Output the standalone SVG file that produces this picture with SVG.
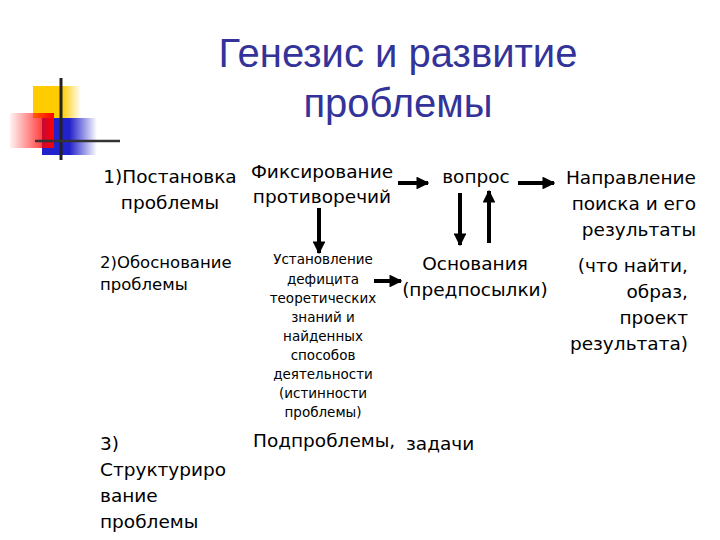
<svg xmlns="http://www.w3.org/2000/svg" width="720" height="540" viewBox="0 0 720 540">
<defs>
<linearGradient id="gy" x1="0" x2="1"><stop offset="0.6" stop-color="#ffcc00"/><stop offset="1" stop-color="#ffcc00" stop-opacity="0"/></linearGradient>
<linearGradient id="gr" x1="1" x2="0"><stop offset="0" stop-color="#ff0000"/><stop offset="1" stop-color="#ff0000" stop-opacity="0.05"/></linearGradient>
<linearGradient id="gb" x1="0" x2="1"><stop offset="0.5" stop-color="#2222cc"/><stop offset="1" stop-color="#2222cc" stop-opacity="0"/></linearGradient>
<marker id="ah" viewBox="0 0 10 10" refX="9" refY="5" markerWidth="3.2" markerHeight="3.2" orient="auto"><path d="M0,0L10,5L0,10z" fill="#000"/></marker>
<style>
text{font-family:"DejaVu Sans","Liberation Sans",sans-serif;fill:#000}
.b{font-size:18.5px}.s{font-size:13.5px}
.t{font-family:"Liberation Sans",Arial,sans-serif;font-size:40px;fill:#333399}
.c line{stroke:#000;stroke-width:4}
</style>
</defs>
<g id="deco">
<rect x="33" y="86" width="48" height="32" fill="url(#gy)"/>
<rect x="42" y="118" width="55" height="37" fill="url(#gb)"/>
<rect x="10" y="113" width="44" height="35" fill="url(#gr)"/>
<line x1="61" y1="78" x2="61" y2="160" stroke="#222" stroke-width="3"/>
<line x1="35" y1="141" x2="120" y2="141" stroke="#333" stroke-width="2.5"/>
</g>
<g id="title"><text class="t" x="398" y="67" text-anchor="middle">Генезис и развитие</text><text class="t" x="398" y="117" text-anchor="middle">проблемы</text></g>
<g id="n1"><text class="b" x="170" y="183" text-anchor="middle">1)Постановка</text><text class="b" x="170" y="209" text-anchor="middle">проблемы</text></g>
<g id="n2"><text class="b" x="322" y="178" text-anchor="middle">Фиксирование</text><text class="b" x="322" y="203" text-anchor="middle">противоречий</text></g>
<g id="n3"><text class="b" x="476" y="183" text-anchor="middle">вопрос</text></g>
<g id="n4" text-anchor="end"><text class="b" x="696" y="184">Направление</text><text class="b" x="696" y="210">поиска и его</text><text class="b" x="696" y="236">результаты</text><text class="b" x="688" y="272">(что найти,</text><text class="b" x="688" y="298">образ,</text><text class="b" x="688" y="324">проект</text><text class="b" x="688" y="350">результата)</text></g>
<g id="n5"><text x="100" y="268" style="font-size:16.5px">2)Обоснование</text><text x="100" y="290" style="font-size:16.5px">проблемы</text></g>
<g id="n6" text-anchor="middle" class="s"><text x="323" y="264">Установление</text><text x="323" y="284">дефицита</text><text x="323" y="303">теоретических</text><text x="323" y="322">знаний и</text><text x="323" y="341">найденных</text><text x="323" y="360">способов</text><text x="323" y="379">деятельности</text><text x="323" y="398">(истинности</text><text x="323" y="417">проблемы)</text></g>
<g id="n7"><text class="b" x="475" y="270" text-anchor="middle">Основания</text><text class="b" x="475" y="296" text-anchor="middle">(предпосылки)</text></g>
<g id="n8"><text class="b" x="100" y="450">3)</text><text class="b" x="100" y="476">Структуриро</text><text class="b" x="100" y="502">вание</text><text class="b" x="100" y="528">проблемы</text></g>
<g id="n9"><text class="b" x="253" y="447">Подпроблемы,</text></g>
<g id="n10"><text class="b" x="406" y="450">задачи</text></g>
<g id="connectors" class="c">
<line x1="398" y1="183" x2="428" y2="183" marker-end="url(#ah)"/>
<line x1="518" y1="183" x2="554" y2="183" marker-end="url(#ah)"/>
<line x1="460" y1="193" x2="460" y2="245" marker-end="url(#ah)"/>
<line x1="489" y1="243" x2="489" y2="191" marker-end="url(#ah)"/>
<line x1="319" y1="208" x2="319" y2="253" marker-end="url(#ah)"/>
<line x1="374" y1="281" x2="401" y2="281" marker-end="url(#ah)"/>
</g>
</svg>
